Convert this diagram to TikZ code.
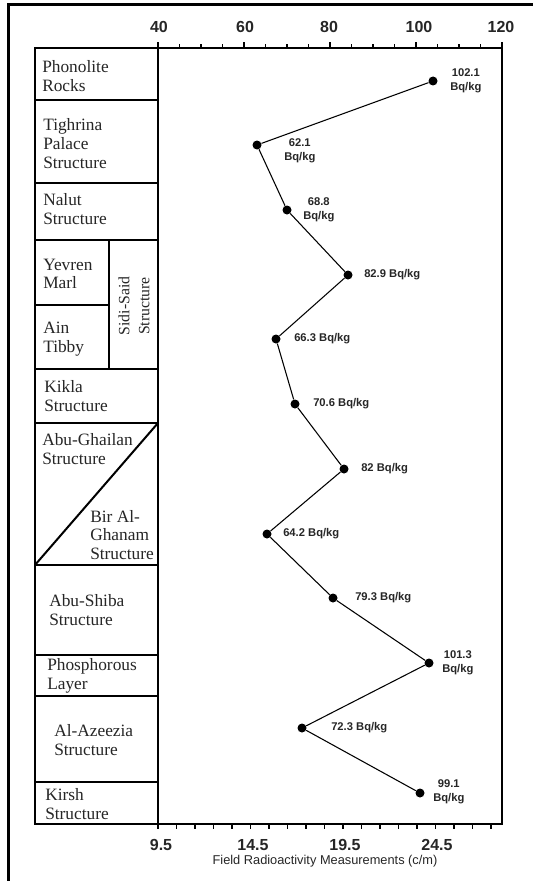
\documentclass[tikz,border=0pt]{standalone}
\usepackage{fontspec}
\setmainfont{Liberation Serif}
\newfontfamily\axisfont{Liberation Sans}
\begin{document}
\begin{tikzpicture}[x=0.75pt,y=-0.75pt,
  frameline/.style={line width=2.25pt},
  gridline/.style={line width=1.5pt},
  lay/.style={anchor=west,align=left,inner sep=0pt,font=\fontsize{13}{14}\selectfont,text=black!85},
  dot/.style={circle,fill=black,inner sep=0pt,minimum size=6.75pt},
  val/.style={anchor=west,inner sep=0pt,font=\axisfont\bfseries\fontsize{8.4}{10.5}\selectfont,align=center,text=black!85},
  tickline/.style={line width=0.9pt},
  axlab/.style={font=\axisfont\bfseries\fontsize{12}{14}\selectfont,inner sep=0pt,text=black!85},
  link/.style={line width=0.8pt}
]
\useasboundingbox (0,0) rectangle (533,881);
\fill[white] (0,0) rectangle (533,881);
% outer frame
\draw[frameline] (8,881) -- (8,5) -- (533,5);
% stratigraphic column
\draw[gridline] (35,48) rectangle (158,824);
\foreach \yy in {100,183,240,369,423,565,655,696,782}
  \draw[gridline] (35,\yy) -- (158,\yy);
\draw[gridline] (35,305) -- (109,305);
\draw[gridline] (109,240) -- (109,369);
\draw[gridline] (35,565) -- (158,423);
% plot box
\draw[gridline] (158,48) rectangle (502,824);
% top ticks
\foreach \k in {0,...,16} {
  \pgfmathsetmacro{\len}{ifthenelse(mod(\k,4)==0,6,4)}
  \draw[tickline] ({158+\k*21.5},48) -- ({158+\k*21.5},{48-\len});
}
% bottom ticks
\foreach \k in {0,...,18}
  \draw[tickline] ({158+\k*18.5},824) -- ({158+\k*18.5},829);
% axis labels
\node[axlab] (t40) at (159,27) {40};
\node[axlab] (t60) at (245,27) {60};
\node[axlab] (t80) at (329,27) {80};
\node[axlab] (t100) at (419,27) {100};
\node[axlab] (t120) at (501,27) {120};
\node[axlab] (b95) at (161,845) {9.5};
\node[axlab] (b145) at (253,845) {14.5};
\node[axlab] (b195) at (345,845) {19.5};
\node[axlab] (b245) at (437,845) {24.5};
\node[inner sep=0pt,font=\axisfont\fontsize{9.6}{11}\selectfont,text=black!85] (xtitle) at (325,861) {Field Radioactivity Measurements (c/m)};
% layer names
\node[lay] (n1) at (42,76) {Phonolite\\Rocks};
\node[lay] (n2) at (43,143.5) {Tighrina\\Palace\\Structure};
\node[lay] (n3) at (43,209) {Nalut\\Structure};
\node[lay] (n4) at (43,274) {Yevren\\Marl};
\node[lay] (n5) at (43,339) {Ain\\Tibby};
\node[lay] (n6) at (44,396) {Kikla\\Structure};
\node[lay] (n7) at (42,449) {Abu-Ghailan\\Structure};
\node[lay] (n8) at (90,535) {Bir Al-\\Ghanam\\Structure};
\node[lay] (n9) at (49,610) {Abu-Shiba\\Structure};
\node[lay] (n10) at (47,676) {Phosphorous\\Layer};
\node[lay] (n11) at (54,740) {Al-Azeezia\\Structure};
\node[lay] (n12) at (45,804) {Kirsh\\Structure};
\node[inner sep=0pt,align=center,rotate=90,font=\fontsize{11.8}{15}\selectfont,text=black!85] (sidi) at (134,306) {Sidi-Said\\Structure};
% data points
\node[dot] (p1) at (433,81) {};
\node[dot] (p2) at (257,145) {};
\node[dot] (p3) at (287,210) {};
\node[dot] (p4) at (348,275) {};
\node[dot] (p5) at (276,339) {};
\node[dot] (p6) at (295,404) {};
\node[dot] (p7) at (344,469) {};
\node[dot] (p8) at (267,534) {};
\node[dot] (p9) at (333,598) {};
\node[dot] (p10) at (429,663) {};
\node[dot] (p11) at (302,728) {};
\node[dot] (p12) at (420,793) {};
\draw[link] (p1) -- (p2) -- (p3) -- (p4) -- (p5) -- (p6) -- (p7) -- (p8) -- (p9) -- (p10) -- (p11) -- (p12);
% value labels
\node[val] (l1) at (450,81) {102.1\\Bq/kg};
\node[val] (l2) at (284,151) {62.1\\Bq/kg};
\node[val] (l3) at (303,209.5) {68.8\\Bq/kg};
\node[val] (l4) at (364,275) {82.9 Bq/kg};
\node[val] (l5) at (294,339) {66.3 Bq/kg};
\node[val] (l6) at (313,404) {70.6 Bq/kg};
\node[val] (l7) at (361,469) {82 Bq/kg};
\node[val] (l8) at (283,534) {64.2 Bq/kg};
\node[val] (l9) at (355,598) {79.3 Bq/kg};
\node[val] (l10) at (442,663) {101.3\\Bq/kg};
\node[val] (l11) at (331,728) {72.3 Bq/kg};
\node[val] (l12) at (433,792) {99.1\\Bq/kg};
\end{tikzpicture}
\end{document}
